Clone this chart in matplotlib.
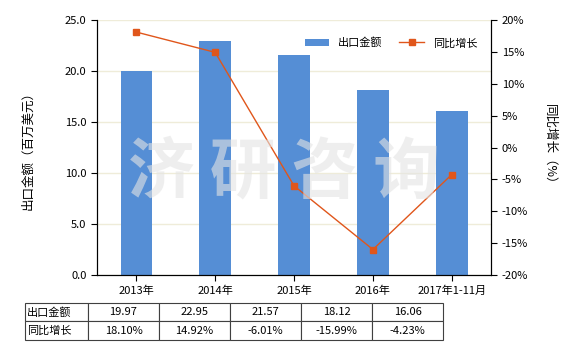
import matplotlib
matplotlib.use("Agg")
import matplotlib.pyplot as plt
import numpy as np

plt.rcParams['font.family'] = ['Noto Sans CJK SC', 'DejaVu Sans']
plt.rcParams['axes.unicode_minus'] = False

categories = ["2013年", "2014年", "2015年", "2016年", "2017年1-11月"]
export_value = [19.97, 22.95, 21.57, 18.12, 16.06]
yoy_growth = [18.10, 14.92, -6.01, -15.99, -4.23]
value_labels = ["19.97", "22.95", "21.57", "18.12", "16.06"]
growth_labels = ["18.10%", "14.92%", "-6.01%", "-15.99%", "-4.23%"]

bar_color = "#558ed5"
line_color = "#e0561b"
grid_color = "#efecd9"

fig = plt.figure(figsize=(5.8, 3.5), dpi=100)
ax = fig.add_axes([0.167, 0.214, 0.680, 0.729])
x = np.arange(len(categories))

ax.bar(x, export_value, width=0.4, color=bar_color, label="出口金额", zorder=2)
ax.set_ylim(0, 25)
ax.set_yticks(np.arange(0, 25.1, 5))
ax.set_yticklabels([f"{v:.1f}" for v in np.arange(0, 25.1, 5)])
ax.set_xlim(-0.5, len(categories) - 0.5)
ax.set_xticks(x)
ax.set_xticklabels(categories)
ax.grid(axis="y", color=grid_color, linewidth=1, zorder=0)
ax.set_ylabel("出口金额（百万美元）", fontsize=9, labelpad=22)
ax.spines["top"].set_visible(False)
ax.tick_params(labelsize=8, length=4)

ax2 = ax.twinx()
ax2.plot(x, yoy_growth, color=line_color, marker="s", markersize=4, linewidth=1,
         label="同比增长", zorder=3)
ax2.set_ylim(-20, 20)
ax2.set_yticks(np.arange(-20, 21, 5))
ax2.set_yticklabels([f"{v}%" for v in range(-20, 21, 5)])
ax2.spines["top"].set_visible(False)
ax2.tick_params(labelsize=8, length=4)
ax2.set_ylabel("同比增长（%）", fontsize=9, rotation=270, labelpad=20)

# watermark
fig.text(0.49, 0.505, "济 研 咨 询", fontsize=48, fontweight="bold", color="#e4e4e4",
         alpha=0.6, ha="center", va="center", zorder=10)

h1, l1 = ax.get_legend_handles_labels()
h2, l2 = ax2.get_legend_handles_labels()
ax2.legend(h1 + h2, l1 + l2, loc="upper right", bbox_to_anchor=(0.99, 0.97), ncol=2,
           frameon=False, fontsize=8, handlelength=2.2, columnspacing=1.5)

# data table
tax = fig.add_axes([0.043, 0.029, 0.721, 0.106])
tax.axis("off")
cell_text = [["出口金额"] + value_labels, ["同比增长"] + growth_labels]
tbl = tax.table(cellText=cell_text, bbox=[0, 0, 1, 1],
                colWidths=[63] + [71] * 5, cellLoc="center")
tbl.auto_set_font_size(False)
tbl.set_fontsize(8)
for (r, c), cell in tbl.get_celld().items():
    cell.set_edgecolor("#404040")
    cell.set_linewidth(0.8)
    if c == 0:
        cell.get_text().set_ha("left")
        cell.PAD = 0.03

fig.savefig("out.png", dpi=100)
